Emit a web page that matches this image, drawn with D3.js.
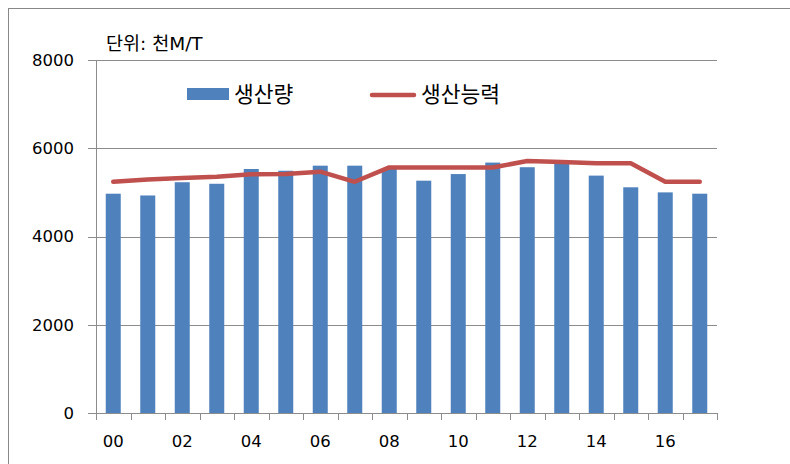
<!DOCTYPE html>
<html>
<head>
<meta charset="utf-8">
<script src="https://cdn.jsdelivr.net/npm/d3@7"></script>
<style>
  body { margin: 0; background: #fff; }
  text { font-family: "DejaVu Sans", "Noto Sans CJK KR", sans-serif; }
</style>
</head>
<body>
<svg id="chart" width="790" height="464"></svg>
<script>
// years 2000-2017, labels every other year
const years = ["00","01","02","03","04","05","06","07","08","09","10","11","12","13","14","15","16","17"];
const tickLabels = ["00","02","04","06","08","10","12","14","16"];
const yTicks = [0, 2000, 4000, 6000, 8000];

// 생산량 (production), 천M/T
const production = [4970, 4930, 5230, 5195, 5530, 5490, 5605, 5605, 5530, 5265, 5415, 5675, 5570, 5690, 5380, 5115, 5000, 4970];
// 생산능력 (capacity), 천M/T
const capacity = [5240, 5290, 5325, 5355, 5410, 5415, 5470, 5240, 5565, 5565, 5565, 5565, 5710, 5690, 5660, 5660, 5240, 5240];

const svg = d3.select("#chart");
const margin = {left: 96, right: 73, top: 60, bottom: 51};
const W = 790, H = 464;

// outer frame
svg.append("rect")
  .attr("x", 8.5).attr("y", 8.5)
  .attr("width", 800).attr("height", 500)
  .attr("fill", "none").attr("stroke", "#888").attr("stroke-width", 1);

let x = d3.scaleBand()
  .domain(years)
  .range([margin.left, W - margin.right])
  .paddingInner(0).paddingOuter(0);

let y = d3.scaleLinear()
  .domain([0, 8000])
  .range([H - margin.bottom, margin.top]);

// gridlines
svg.append("g")
  .selectAll("line")
  .data(yTicks.filter(d => d > 0))
  .join("line")
    .attr("x1", margin.left - 8)
    .attr("x2", W - margin.right)
    .attr("y1", d => Math.round(y(d)) + 0.5)
    .attr("y2", d => Math.round(y(d)) + 0.5)
    .attr("stroke", "#8c8c8c")
    .attr("stroke-width", 1);

// bars
const barW = 15;
svg.append("g")
  .selectAll("rect")
  .data(production)
  .join("rect")
    .attr("x", (d, i) => x(years[i]) + x.bandwidth() / 2 - barW / 2)
    .attr("width", barW)
    .attr("y", d => y(d))
    .attr("height", d => y(0) - y(d))
    .attr("fill", "#4f81bd");

// y axis line + ticks
let yAxis = svg.append("g");
yAxis.append("line")
  .attr("x1", margin.left + 0.5).attr("x2", margin.left + 0.5)
  .attr("y1", y(8000)).attr("y2", y(0))
  .attr("stroke", "#8c8c8c");
yAxis.selectAll("line.tick")
  .data([0])
  .join("line")
    .attr("class", "tick")
    .attr("x1", margin.left - 8).attr("x2", margin.left)
    .attr("y1", d => Math.round(y(d)) + 0.5).attr("y2", d => Math.round(y(d)) + 0.5)
    .attr("stroke", "#8c8c8c");
yAxis.selectAll("text")
  .data(yTicks)
  .join("text")
    .attr("x", 74)
    .attr("y", d => y(d))
    .attr("dy", "0.36em")
    .attr("text-anchor", "end")
    .attr("font-size", 16.5)
    .attr("fill", "#000")
    .text(d => d);

// x axis line + ticks between categories
let xAxis = svg.append("g");
xAxis.append("line")
  .attr("x1", margin.left - 8).attr("x2", W - margin.right)
  .attr("y1", Math.round(y(0)) + 0.5).attr("y2", Math.round(y(0)) + 0.5)
  .attr("stroke", "#8c8c8c");
xAxis.selectAll("line.tick")
  .data(years.concat(["end"]))
  .join("line")
    .attr("class", "tick")
    .attr("x1", (d, i) => Math.round(margin.left + i * x.bandwidth()) + 0.5)
    .attr("x2", (d, i) => Math.round(margin.left + i * x.bandwidth()) + 0.5)
    .attr("y1", Math.round(y(0)))
    .attr("y2", Math.round(y(0)) + 7)
    .attr("stroke", "#8c8c8c");
xAxis.selectAll("text")
  .data(tickLabels)
  .join("text")
    .attr("x", d => x(d) + x.bandwidth() / 2)
    .attr("y", 447)
    .attr("text-anchor", "middle")
    .attr("font-size", 16.5)
    .attr("fill", "#000")
    .text(d => d);

// capacity line
let line = d3.line()
  .x((d, i) => x(years[i]) + x.bandwidth() / 2)
  .y(d => y(d));
svg.append("path")
  .datum(capacity)
  .attr("d", line)
  .attr("fill", "none")
  .attr("stroke", "#c0504d")
  .attr("stroke-width", 4.5)
  .attr("stroke-linejoin", "round")
  .attr("stroke-linecap", "round");

// unit label
svg.append("text")
  .attr("x", 106).attr("y", 50)
  .attr("font-size", 18.5)
  .attr("font-family", "Noto Sans CJK KR")
  .text("단위: 천M/T");

// legend
let legend = svg.append("g").attr("font-family", "Noto Sans CJK KR");
legend.append("rect")
  .attr("x", 187).attr("y", 88).attr("width", 42).attr("height", 12)
  .attr("fill", "#4f81bd");
legend.append("text")
  .attr("x", 234).attr("y", 94).attr("dy", "0.36em")
  .attr("font-size", 21.5)
  .text("생산량");
legend.append("line")
  .attr("x1", 372).attr("x2", 414).attr("y1", 95).attr("y2", 95)
  .attr("stroke", "#c0504d").attr("stroke-width", 4.5).attr("stroke-linecap", "round");
legend.append("text")
  .attr("x", 421).attr("y", 94).attr("dy", "0.36em")
  .attr("font-size", 21.5)
  .text("생산능력");
</script>
</body>
</html>
